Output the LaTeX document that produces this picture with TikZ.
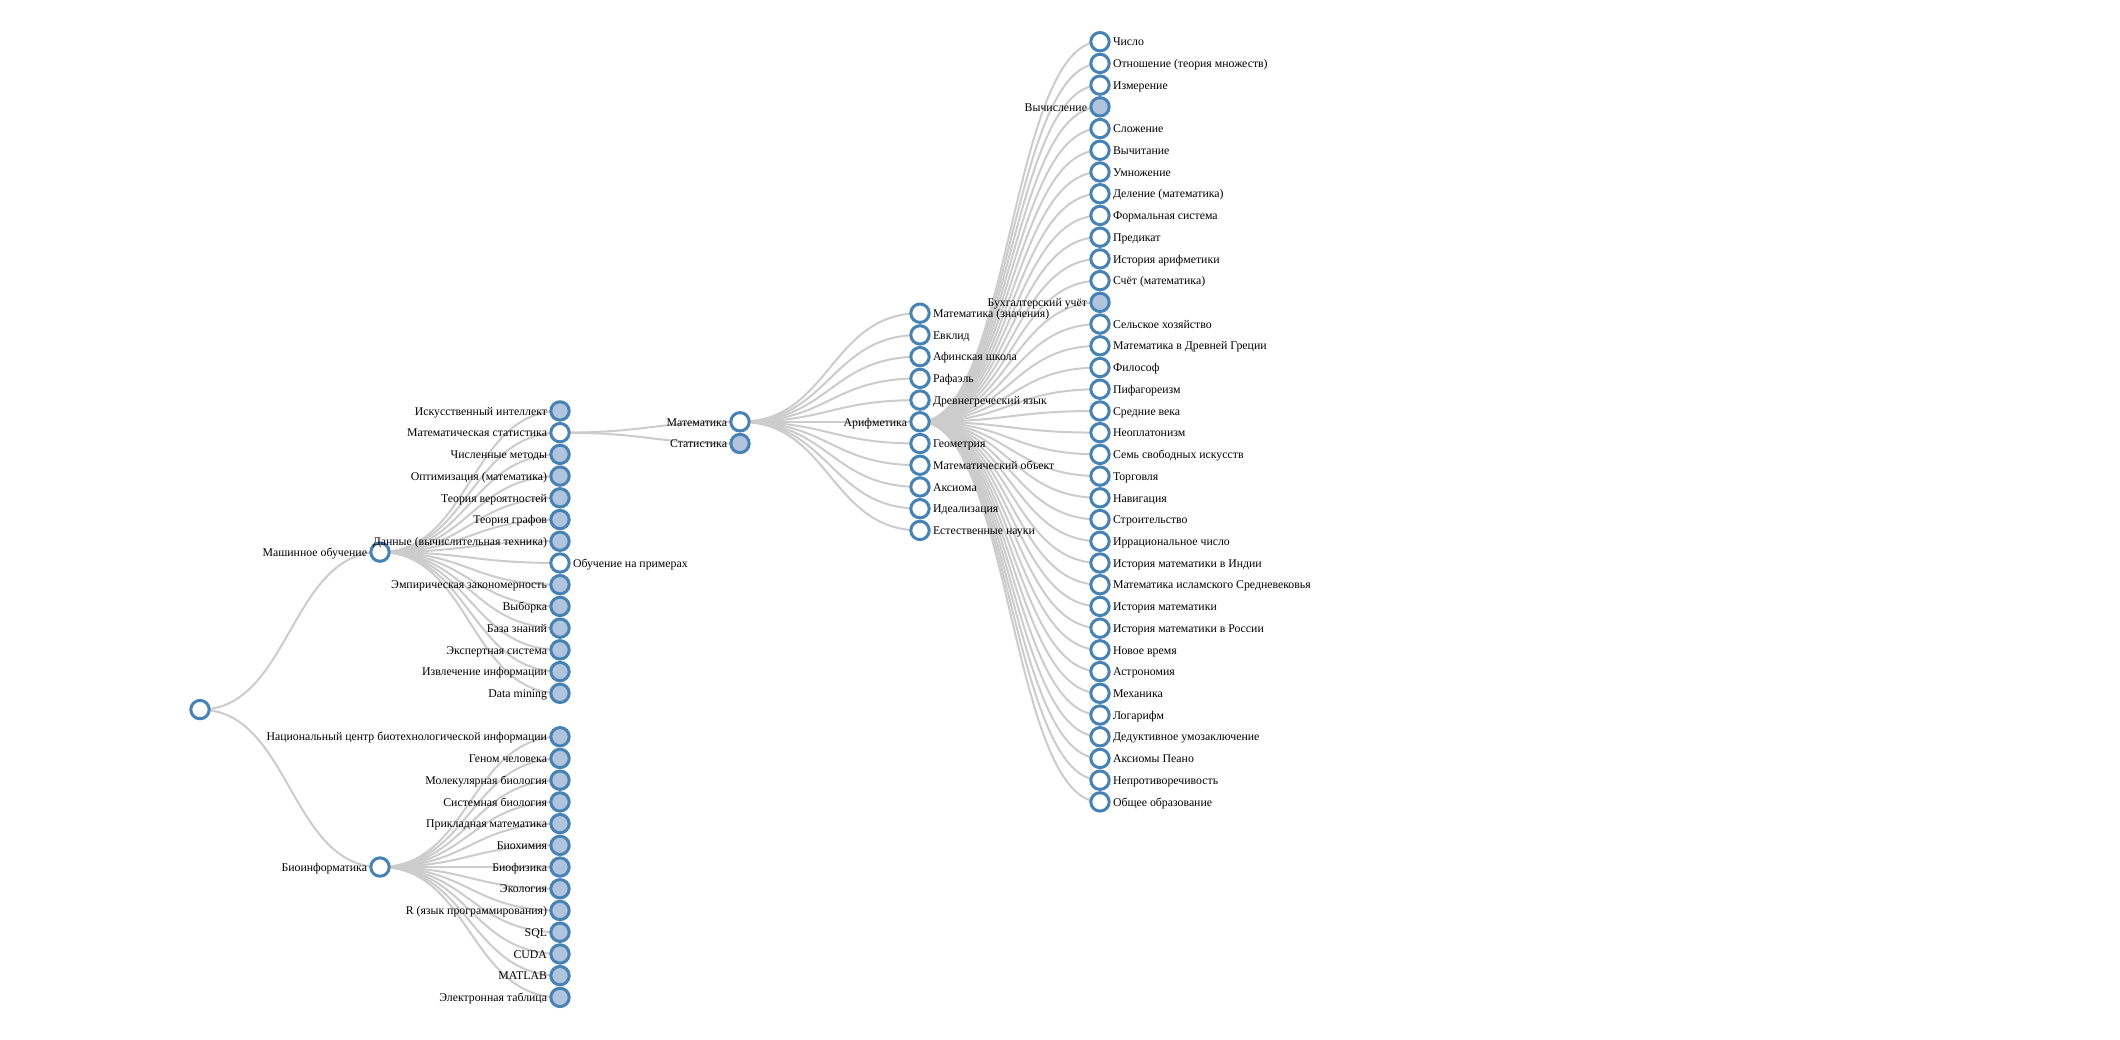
\documentclass[tikz,border=0pt]{standalone}
\usepackage{fontspec}
\setmainfont{Liberation Serif}
\usetikzlibrary{calc,backgrounds}
\definecolor{steelblue}{HTML}{4682B4}
\definecolor{lsblue}{HTML}{B0C4DE}
\definecolor{linkgray}{HTML}{CCCCCC}
\tikzset{
  circW/.style={circle, draw=steelblue, fill=white, line width=3pt, minimum size=18.4pt, inner sep=0pt},
  circF/.style={circW, fill=lsblue},
  lbl/.style={inner sep=0pt, outer sep=0pt, text=black, font=\fontsize{11.8}{14}\selectfont},
  link/.style={draw=linkgray, line width=2pt}
}
\newcommand\nodeR[4]{\node[circW] (#1) at ({200+180*#2},{41.7+21.72*#3}) {};
  \node[lbl, anchor=base west] (#1t) at ([xshift=13pt,yshift=-4.2pt]#1.center) {#4};}
\newcommand\nodeL[5]{\node[#1] (#2) at ({200+180*#3},{41.7+21.72*#4}) {};
  \node[lbl, anchor=base east] (#2t) at ([xshift=-13pt,yshift=-4.2pt]#2.center) {#5};}
\newcommand\lnk[2]{\draw[link] let \p1=(#1.center), \p2=(#2.center) in (\p1) .. controls ({(\x1+\x2)/2},\y1) and ({(\x1+\x2)/2},\y2) .. (\p2);}
\begin{document}
\begin{tikzpicture}[x=1pt,y=-1pt]
\useasboundingbox (0,0) rectangle (2120,1040);
% root
\node[circW] (r) at (200,{41.7+21.72*30.75}) {};
% depth 1
\nodeL{circW}{ml}{1}{23.5}{Машинное обучение}
\nodeL{circW}{bio}{1}{38}{Биоинформатика}
% depth 2: machine learning
\nodeL{circF}{m1}{2}{17}{Искусственный интеллект}
\nodeL{circW}{m2}{2}{18}{Математическая статистика}
\nodeL{circF}{m3}{2}{19}{Численные методы}
\nodeL{circF}{m4}{2}{20}{Оптимизация (математика)}
\nodeL{circF}{m5}{2}{21}{Теория вероятностей}
\nodeL{circF}{m6}{2}{22}{Теория графов}
\nodeL{circF}{m7}{2}{23}{Данные (вычислительная техника)}
\nodeR{m8}{2}{24}{Обучение на примерах}
\nodeL{circF}{m9}{2}{25}{Эмпирическая закономерность}
\nodeL{circF}{m10}{2}{26}{Выборка}
\nodeL{circF}{m11}{2}{27}{База знаний}
\nodeL{circF}{m12}{2}{28}{Экспертная система}
\nodeL{circF}{m13}{2}{29}{Извлечение информации}
\nodeL{circF}{m14}{2}{30}{Data mining}
% depth 2: bioinformatics
\nodeL{circF}{b1}{2}{32}{Национальный центр биотехнологической информации}
\nodeL{circF}{b2}{2}{33}{Геном человека}
\nodeL{circF}{b3}{2}{34}{Молекулярная биология}
\nodeL{circF}{b4}{2}{35}{Системная биология}
\nodeL{circF}{b5}{2}{36}{Прикладная математика}
\nodeL{circF}{b6}{2}{37}{Биохимия}
\nodeL{circF}{b7}{2}{38}{Биофизика}
\nodeL{circF}{b8}{2}{39}{Экология}
\nodeL{circF}{b9}{2}{40}{R (язык программирования)}
\nodeL{circF}{b10}{2}{41}{SQL}
\nodeL{circF}{b11}{2}{42}{CUDA}
\nodeL{circF}{b12}{2}{43}{MATLAB}
\nodeL{circF}{b13}{2}{44}{Электронная таблица}
% depth 3
\nodeL{circW}{mat}{3}{17.5}{Математика}
\nodeL{circF}{st}{3}{18.5}{Статистика}
% depth 4
\nodeR{a1}{4}{12.5}{Математика (значения)}
\nodeR{a2}{4}{13.5}{Евклид}
\nodeR{a3}{4}{14.5}{Афинская школа}
\nodeR{a4}{4}{15.5}{Рафаэль}
\nodeR{a5}{4}{16.5}{Древнегреческий язык}
\nodeL{circW}{ar}{4}{17.5}{Арифметика}
\nodeR{a7}{4}{18.5}{Геометрия}
\nodeR{a8}{4}{19.5}{Математический объект}
\nodeR{a9}{4}{20.5}{Аксиома}
\nodeR{a10}{4}{21.5}{Идеализация}
\nodeR{a11}{4}{22.5}{Естественные науки}
% depth 5
\nodeR{c0}{5}{0}{Число}
\nodeR{c1}{5}{1}{Отношение (теория множеств)}
\nodeR{c2}{5}{2}{Измерение}
\nodeL{circF}{c3}{5}{3}{Вычисление}
\nodeR{c4}{5}{4}{Сложение}
\nodeR{c5}{5}{5}{Вычитание}
\nodeR{c6}{5}{6}{Умножение}
\nodeR{c7}{5}{7}{Деление (математика)}
\nodeR{c8}{5}{8}{Формальная система}
\nodeR{c9}{5}{9}{Предикат}
\nodeR{c10}{5}{10}{История арифметики}
\nodeR{c11}{5}{11}{Счёт (математика)}
\nodeL{circF}{c12}{5}{12}{Бухгалтерский учёт}
\nodeR{c13}{5}{13}{Сельское хозяйство}
\nodeR{c14}{5}{14}{Математика в Древней Греции}
\nodeR{c15}{5}{15}{Философ}
\nodeR{c16}{5}{16}{Пифагореизм}
\nodeR{c17}{5}{17}{Средние века}
\nodeR{c18}{5}{18}{Неоплатонизм}
\nodeR{c19}{5}{19}{Семь свободных искусств}
\nodeR{c20}{5}{20}{Торговля}
\nodeR{c21}{5}{21}{Навигация}
\nodeR{c22}{5}{22}{Строительство}
\nodeR{c23}{5}{23}{Иррациональное число}
\nodeR{c24}{5}{24}{История математики в Индии}
\nodeR{c25}{5}{25}{Математика исламского Средневековья}
\nodeR{c26}{5}{26}{История математики}
\nodeR{c27}{5}{27}{История математики в России}
\nodeR{c28}{5}{28}{Новое время}
\nodeR{c29}{5}{29}{Астрономия}
\nodeR{c30}{5}{30}{Механика}
\nodeR{c31}{5}{31}{Логарифм}
\nodeR{c32}{5}{32}{Дедуктивное умозаключение}
\nodeR{c33}{5}{33}{Аксиомы Пеано}
\nodeR{c34}{5}{34}{Непротиворечивость}
\nodeR{c35}{5}{35}{Общее образование}
\begin{pgfonlayer}{background}
\fill[white] (0,0) rectangle (2120,1040);
\lnk{r}{ml}\lnk{r}{bio}
\foreach \k in {1,...,14} {\lnk{ml}{m\k}}
\foreach \k in {1,...,13} {\lnk{bio}{b\k}}
\lnk{m2}{mat}\lnk{m2}{st}
\foreach \k in {a1,a2,a3,a4,a5,ar,a7,a8,a9,a10,a11} {\lnk{mat}{\k}}
\foreach \k in {0,...,35} {\lnk{ar}{c\k}}
\end{pgfonlayer}
\end{tikzpicture}
\end{document}
